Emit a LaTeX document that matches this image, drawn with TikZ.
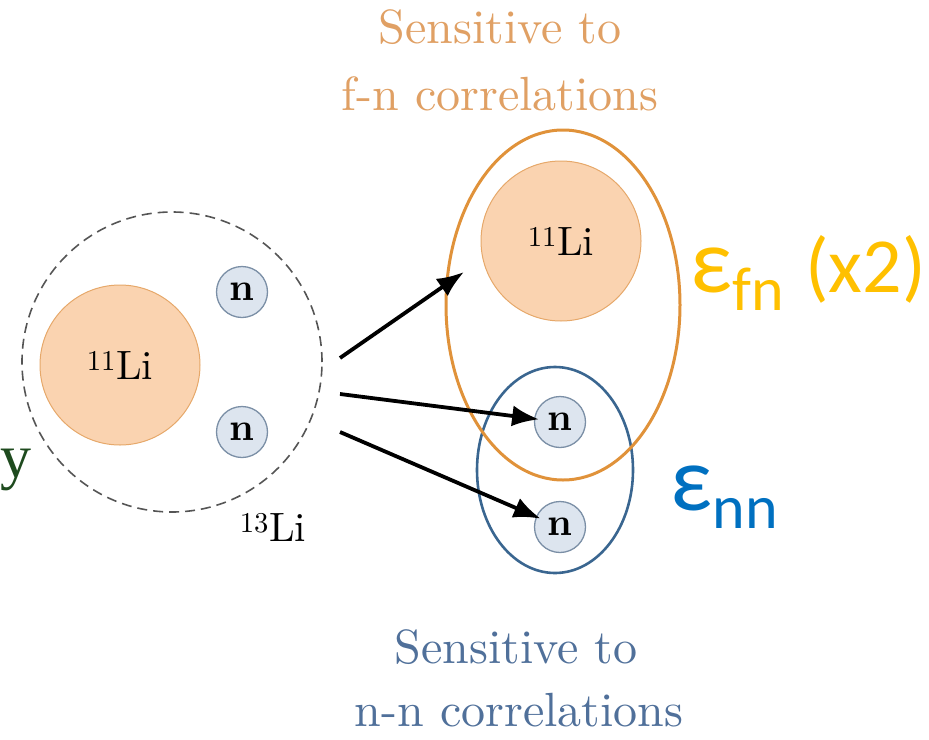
\documentclass[tikz,border=0pt]{standalone}
\usepackage{fontspec}
\setmainfont{lmroman10-regular}[Extension=.otf, BoldFont=lmroman10-bold]
\newfontfamily\carl{Carlito}
\newfontfamily\tms{Liberation Serif}
\usetikzlibrary{shapes.geometric,arrows.meta}
\definecolor{corefill}{HTML}{FAD3B0}
\definecolor{coreline}{HTML}{E6A86A}
\definecolor{nfill}{HTML}{DDE5EF}
\definecolor{nline}{HTML}{7B8FA6}
\definecolor{fnline}{HTML}{E0923A}
\definecolor{nnline}{HTML}{3A6690}
\definecolor{fntext}{HTML}{E0A064}
\definecolor{nntext}{HTML}{50709A}
\definecolor{dashgray}{HTML}{555555}
\definecolor{epsfn}{HTML}{FFC000}
\definecolor{epsnn}{HTML}{0070C0}
\definecolor{ygreen}{HTML}{1E4A1E}
\begin{document}
\begin{tikzpicture}[x=1pt,y=-1pt,
  core/.style={circle, fill=corefill, draw=coreline, line width=1pt, minimum size=160pt, inner sep=0pt, font=\fontsize{41}{44}\selectfont},
  neut/.style={circle, fill=nfill, draw=nline, line width=1.3pt, minimum size=51pt, inner sep=0pt, font=\fontsize{39}{42}\selectfont\bfseries},
  lilbl/.style={inner sep=0pt, font=\fontsize{41}{44}\selectfont},
  sens/.style={inner sep=0pt, anchor=base, font=\fontsize{48}{56}\selectfont},
  arr/.style={-{Latex[length=27pt,width=21pt]}, line width=3.8pt},
  eps/.style={inner sep=0pt, anchor=base west}
]
\useasboundingbox (0,0) rectangle (929,739);
% left: 13Li
\node[circle, draw=dashgray, dash pattern=on 10pt off 6pt, line width=1.6pt, minimum size=300pt, inner sep=0pt] (halo) at (172,362) {};
\node[core] (liA) at (120,365) {\textsuperscript{11}Li};
\node[neut] (n1) at (242,292) {n};
\node[neut] (n2) at (242,432) {n};
\node[lilbl] (li13) at (273,527) {\textsuperscript{13}Li};
\node[inner sep=0pt, anchor=base west, text=ygreen, font=\tms\fontsize{62}{66}\selectfont] (yy) at (0,477) {y};
% right
\node[core] (liB) at (561,241) {\textsuperscript{11}Li};
\node[neut] (n3) at (560,422) {n};
\node[neut] (n4) at (560,527) {n};
\node[ellipse, draw=nnline, line width=2.6pt, minimum width=156pt, minimum height=206pt, inner sep=0pt] (nnell) at (555,470) {};
\node[ellipse, draw=fnline, line width=3pt, minimum width=234pt, minimum height=350pt, inner sep=0pt] (fnell) at (563,305) {};
% texts
\node[sens, text=fntext] (fnA) at (500,43) {Sensitive to};
\node[sens, text=fntext] (fnB) at (500,110) {f-n correlations};
\node[sens, text=nntext] (nnA) at (516,663) {Sensitive to};
\node[sens, text=nntext] (nnB) at (519,726) {n-n correlations};
% epsilon labels
\node[eps, text=epsfn, font=\carl\fontsize{92}{96}\selectfont] (efn) at (690,292) {ε};
\node[eps, text=epsfn, font=\carl\fontsize{62}{66}\selectfont] (efnsub) at (efn.base east) [yshift=-18pt] {fn};
\node[eps, text=epsfn, font=\carl\fontsize{78}{82}\selectfont] (efnx) at (805,292) {(x2)};
\node[eps, text=epsnn, font=\carl\fontsize{92}{96}\selectfont] (enn) at (670,510) {ε};
\node[eps, text=epsnn, font=\carl\fontsize{62}{66}\selectfont] (ennsub) at (enn.base east) [yshift=-18pt] {nn};
% arrows
\coordinate (s1) at (340,358);
\coordinate (t1) at (464,272);
\coordinate (s2) at (340,394);
\coordinate (s3) at (340,432);
\draw[arr] (s1) -- (t1);
\draw[arr, shorten >=21pt] (s2) -- (n3.center);
\draw[arr, shorten >=21pt] (s3) -- (n4.center);
\end{tikzpicture}
\end{document}
